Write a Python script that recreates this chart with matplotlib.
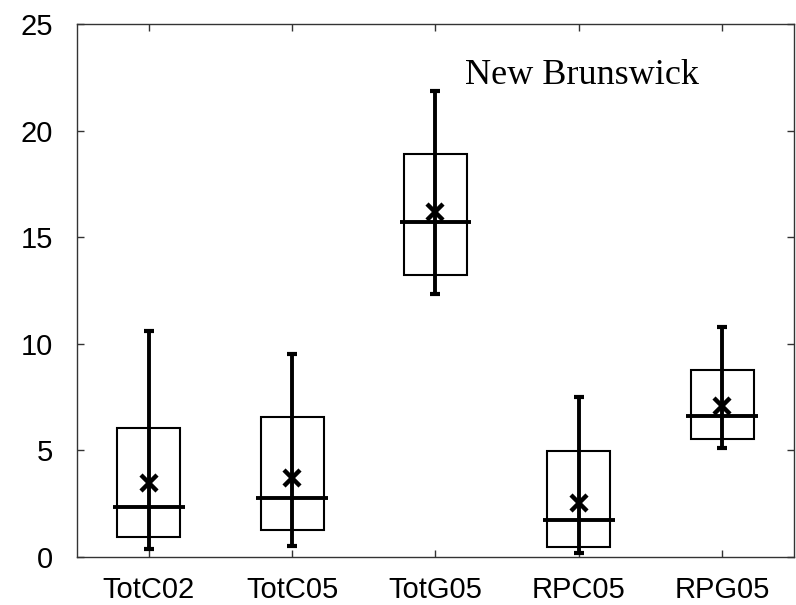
import matplotlib
matplotlib.use("Agg")
import matplotlib.pyplot as plt
import numpy as np

categories = ["TotC02", "TotC05", "TotG05", "RPC05", "RPG05"]
whisker_low = [0.36, 0.52, 12.32, 0.16, 5.09]
q1 = [0.91, 1.25, 13.20, 0.44, 5.51]
median = [2.33, 2.76, 15.71, 1.74, 6.61]
mean = [3.45, 3.71, 16.20, 2.54, 7.08]
q3 = [6.06, 6.58, 18.91, 4.97, 8.74]
whisker_high = [10.57, 9.51, 21.87, 7.49, 10.77]
y_ticks = [0, 5, 10, 15, 20, 25]
label = "New Brunswick"

fig = plt.figure(figsize=(7.96, 6.05), dpi=100)
ax = fig.add_axes([0.0967, 0.0798, 0.9008, 0.8805])

x = np.arange(1, len(categories) + 1)
wl = np.array(whisker_low); wh = np.array(whisker_high)
lo = np.array(q1); hi = np.array(q3)
md = np.array(median); mn = np.array(mean)

# boxes
ax.bar(x, hi - lo, bottom=lo, width=0.44, fill=False, edgecolor="black",
       linewidth=1.5, zorder=2)
# whiskers (through the box)
ax.errorbar(x, (wl + wh) / 2, yerr=(wh - wl) / 2, fmt="none", ecolor="black",
            elinewidth=2.8, capsize=3.5, capthick=3, zorder=3)
# medians
ax.hlines(md, x - 0.25, x + 0.25, colors="black", linewidth=2.8, zorder=4)
# means
ax.plot(x, mn, linestyle="none", marker="x", markersize=12, markeredgewidth=3.2,
        color="black", zorder=5)

ax.set_xlim(0.5, len(categories) + 0.5)
ax.set_ylim(0, 25)
ax.set_xticks(x)
ax.set_xticklabels(categories)
ax.set_yticks(y_ticks)
ax.tick_params(direction="in", length=5, width=1, color="#333333",
               top=True, right=True, labelsize=21, labelcolor="black")
ax.tick_params(axis="y", pad=17)
ax.tick_params(axis="x", pad=14)
for lab in ax.get_xticklabels() + ax.get_yticklabels():
    lab.set_family("Liberation Sans")
for s in ax.spines.values():
    s.set_color("#333333")
    s.set_linewidth(1)

ax.text(4.02, 22.2, label, ha="center", va="baseline", fontsize=26,
        family="Liberation Serif")

fig.savefig("out.png", dpi=100)
